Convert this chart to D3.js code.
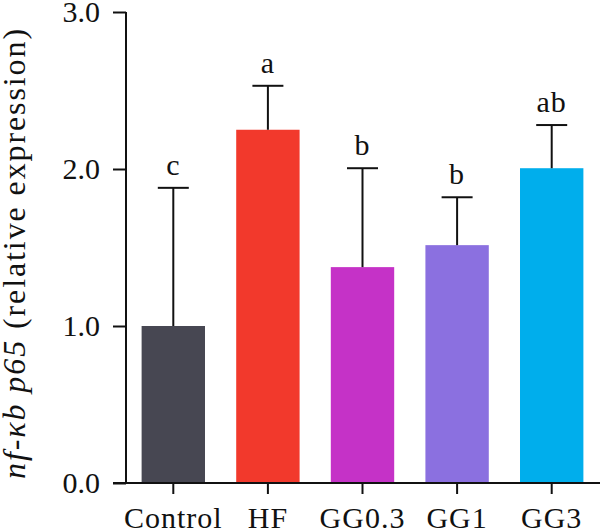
<!DOCTYPE html>
<html><head><meta charset="utf-8">
<script src="https://cdn.jsdelivr.net/npm/d3@7/dist/d3.min.js"></script>
<style>body{margin:0;background:#fff}svg{display:block}</style>
</head><body><svg id="c" width="600" height="532"></svg>
<script>
const categories = ["Control","HF","GG0.3","GG1","GG3"];
const means = [1.0, 2.25, 1.375, 1.515, 2.005];
const errorTops = [1.88, 2.53, 2.005, 1.82, 2.28];
const letters = ["c","a","b","b","ab"];
const colors = ["#474752","#f2392c","#c532c7","#8b70e0","#00aeec"];
const yTicks = [0, 1, 2, 3];

const svg = d3.select("#c");
const font = "'Liberation Serif', 'DejaVu Serif', serif";
const x0 = 126, yBottom = 483;
const x = d3.scaleBand().domain(categories).range([126, 599]).paddingInner(0.33).paddingOuter(0.165);
const y = d3.scaleLinear().domain([0, 3]).range([yBottom, 12]);

// bars
svg.selectAll("rect.bar").data(categories).enter().append("rect")
  .attr("x", d => x(d)).attr("width", x.bandwidth())
  .attr("y", (d,i) => y(means[i])).attr("height", (d,i) => y(0) - y(means[i]))
  .attr("fill", (d,i) => colors[i]);

// error bars
const cap = 31;
categories.forEach((d,i) => {
  const cx = x(d) + x.bandwidth()/2;
  svg.append("line").attr("x1", cx).attr("x2", cx).attr("y1", y(means[i])).attr("y2", y(errorTops[i]))
    .attr("stroke", "#111").attr("stroke-width", 2);
  svg.append("line").attr("x1", cx - cap/2).attr("x2", cx + cap/2).attr("y1", y(errorTops[i])).attr("y2", y(errorTops[i]))
    .attr("stroke", "#111").attr("stroke-width", 2);
  svg.append("text").attr("x", cx).attr("y", y(errorTops[i]) - 13).attr("text-anchor", "middle")
    .attr("font-family", font).attr("font-size", 30).attr("letter-spacing", 1).attr("fill", "#111").text(letters[i]);
});

// y axis
const yAxis = svg.append("g").attr("transform", `translate(${x0},0)`)
  .call(d3.axisLeft(y).tickValues(yTicks).tickFormat(d3.format(".1f")).tickSize(13).tickPadding(13));
yAxis.select(".domain").attr("stroke", "#111").attr("stroke-width", 2).attr("d", `M0,${y(3)}V${yBottom}`);
yAxis.selectAll(".tick line").attr("stroke", "#111").attr("stroke-width", 2);
yAxis.selectAll("text").attr("font-family", font).attr("font-size", 30).attr("fill", "#111");

// x axis
const xAxis = svg.append("g").attr("transform", `translate(0,${yBottom})`)
  .call(d3.axisBottom(x).tickSize(11).tickPadding(13));
xAxis.select(".domain").attr("stroke", "#111").attr("stroke-width", 2).attr("d", `M113,0H600`);
xAxis.selectAll(".tick line").attr("stroke", "#111").attr("stroke-width", 2);
xAxis.selectAll("text").attr("font-family", font).attr("font-size", 30).attr("letter-spacing", 1).attr("fill", "#111");

// y label
const lab = svg.append("text").attr("transform", "translate(25,253) rotate(-90)").attr("text-anchor", "middle")
  .attr("font-family", font).attr("font-size", 32).attr("letter-spacing", 1.9).attr("fill", "#111");
lab.append("tspan").attr("font-style", "italic").text("nf-κb p65");
lab.append("tspan").text(" (relative expression)");
</script></body></html>
